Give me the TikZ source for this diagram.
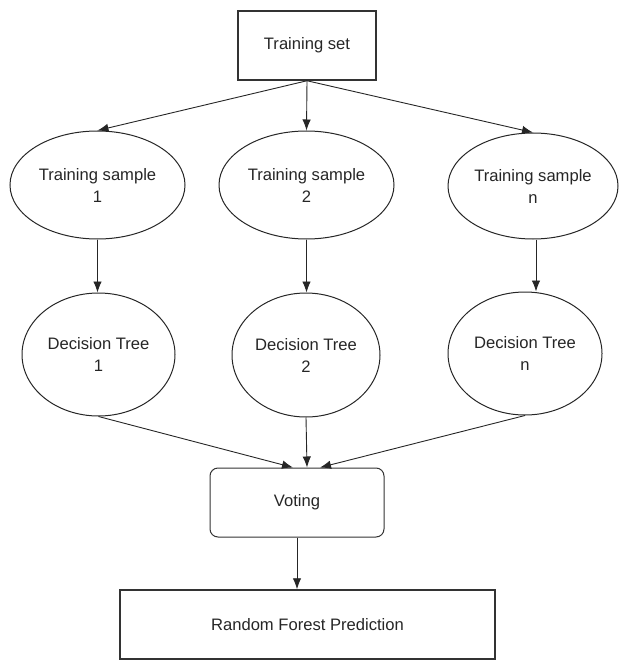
\documentclass[tikz,border=0pt]{standalone}
\usepackage{fontspec}
\setmainfont{Liberation Sans}
\usetikzlibrary{shapes.geometric,arrows.meta}
\newcommand{\lblfont}{\fontsize{16.6}{22}\selectfont}
\begin{document}
\begin{tikzpicture}[x=1pt,y=-1pt,
  box/.style={draw=black!80, line width=1.5pt, inner sep=0pt, font=\lblfont, text=black!85},
  ell/.style={ellipse, draw=black!85, line width=1pt, inner sep=0pt, align=center, font=\lblfont, text=black!85},
  arr/.style={-{Latex[length=11pt,width=8.5pt]}, line width=0.9pt, draw=black!85}]
\useasboundingbox (0,0) rectangle (621,660);
\node[box, minimum width=138pt, minimum height=69pt] (ts) at (307,45.5) {Training set};
\node[ell, minimum width=175pt, minimum height=108pt] (ts1) at (97.5,185) {Training sample\\1};
\node[ell, minimum width=175pt, minimum height=108pt] (ts2) at (306.5,185) {Training sample\\2};
\node[ell, minimum width=170pt, minimum height=106pt] (tsn) at (533,186) {Training sample\\n};
\node[ell, minimum width=153pt, minimum height=123pt] (dt1) at (98.5,354.5) {Decision Tree\\1};
\node[ell, minimum width=148pt, minimum height=124pt] (dt2) at (306,355) {Decision Tree\\2};
\node[ell, minimum width=154pt, minimum height=123pt] (dtn) at (525,353.5) {Decision Tree\\n};
\node[box, line width=1pt, rounded corners=8pt, minimum width=174pt, minimum height=69pt] (vote) at (297,502.5) {Voting};
\node[box, minimum width=375pt, minimum height=69pt] (rfp) at (307.5,624.5) {Random Forest Prediction};

\draw[arr] (ts.south) -- (ts1.north);
\draw[arr] (ts.south) -- (ts2.north);
\draw[arr] (ts.south) -- (tsn.north);
\draw[arr] (ts1.south) -- (ts1.south |- dt1.north);
\draw[arr] (ts2.south) -- (ts2.south |- dt2.north);
\draw[arr] ([xshift=3pt]tsn.south) -- ([xshift=3pt]tsn.south |- dtn.north);
\draw[arr] (dt1.south) -- ([xshift=-4pt]vote.north);
\draw[arr] (dt2.south) -- ([xshift=10pt]vote.north);
\draw[arr] (dtn.south) -- ([xshift=23pt]vote.north);
\draw[arr] (vote.south) -- (vote.south |- rfp.north);
\end{tikzpicture}
\end{document}
